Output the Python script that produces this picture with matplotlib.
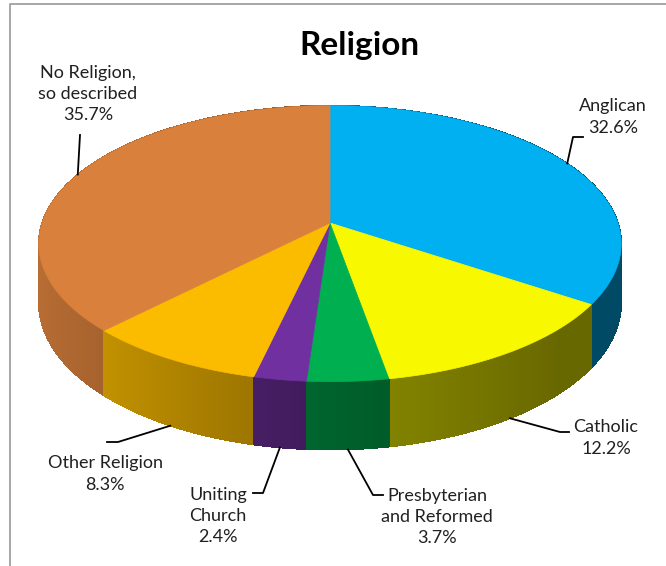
import matplotlib.pyplot as plt
import numpy as np
from matplotlib.patches import Polygon
from matplotlib.colors import to_rgb

plt.rcParams["font.family"] = ["Lato", "DejaVu Sans"]

# Religion shares (%), clockwise from 12 o'clock
categories = ["Anglican", "Catholic", "Presbyterian\nand Reformed",
              "Uniting\nChurch", "Other Religion", "No Religion,\nso described"]
shares = [32.6, 12.2, 3.7, 2.4, 8.3, 35.7]
colors = ["#00B0F0", "#F8F800", "#00AF50", "#7030A0", "#FBBC00", "#D8803C"]

# label centres and leader line bends, in pixels
label_pos = [(613, 117), (606, 438), (437, 517), (218, 516), (105, 474), (88, 94)]
leader_bend = [[(573, 137), (583, 137)],
               [(560, 432), (569, 432)],
               [(373, 495), (383, 495)],
               [(263, 493), (253, 493)],
               [(118, 442), (107, 442)],
               [(80, 135)]]

# perspective ellipse for the pie disc
CX, CY = 330, 223
RX, RY = 288, 135
K = 0.149
DEPTH = 58


def project(theta, drop=0.0):
    u, v = np.sin(theta), np.cos(theta)
    d = 1 + K * v
    return CX + RX * u / d, CY - RY * v / d + drop * DEPTH / d


def shade(color, u):
    # light comes from the left
    f = 0.56 - (0.3 if u < 0 else 0.2) * u
    f = np.clip(f, 0.42, 0.88)
    return tuple(c * f for c in to_rgb(color))


def wall(a, b, n):
    t = np.linspace(a, b, n)
    xs, ys = project(t)
    xb, yb = project(t[::-1], 1)
    return list(zip(xs, ys)) + list(zip(xb, yb))


fig = plt.figure(figsize=(6.66, 5.66), dpi=100)
ax = fig.add_axes([0, 0, 1, 1])
ax.set_xlim(0, 666)
ax.set_ylim(566, 0)
ax.axis("off")

total = sum(shares)
edges = 2 * np.pi * np.concatenate([[0], np.cumsum(shares)]) / total

# side walls: smooth antialiased outline layer, then fine gradient strips
outline = []
strips = []
for i, col in enumerate(colors):
    mid = 0.5 * (edges[i] + edges[i + 1])
    outline.append((np.cos(mid), edges[i], edges[i + 1], shade(col, np.sin(mid))))
    n = max(int(4 * np.degrees(edges[i + 1] - edges[i])), 2)
    t = np.linspace(edges[i], edges[i + 1], n + 1)
    for a, b in zip(t[:-1], t[1:]):
        m = 0.5 * (a + b)
        strips.append((np.cos(m), a, b, shade(col, np.sin(m))))

for _, a, b, fc in sorted(outline, key=lambda s: -s[0]):
    ax.add_patch(Polygon(wall(a, b, 100), closed=True, fc=fc, ec="none"))
for _, a, b, fc in sorted(strips, key=lambda s: -s[0]):
    ax.add_patch(Polygon(wall(a, b, 2), closed=True, fc=fc, ec=fc,
                         lw=0.3, antialiased=False))

# top faces
for i, col in enumerate(colors):
    t = np.linspace(edges[i], edges[i + 1], 200)
    xs, ys = project(t)
    pts = [(CX, CY)] + list(zip(xs, ys))
    ax.add_patch(Polygon(pts, closed=True, fc=col, ec=col, lw=0.5))

# labels and leader lines
for i, name in enumerate(categories):
    mid = 0.5 * (edges[i] + edges[i + 1])
    px, py = project(mid, 1 if np.cos(mid) < 0 else 0)
    pts = [(px, py)] + leader_bend[i]
    ax.plot([p[0] for p in pts], [p[1] for p in pts], color="black", lw=1.3)
    ax.text(label_pos[i][0], label_pos[i][1], f"{name}\n{shares[i]}%",
            ha="center", va="center", fontsize=13, linespacing=1.4,
            color="#202020")

ax.text(359, 46, "Religion", ha="center", va="center",
        fontsize=24, fontweight="bold", color="black")

# chart frame
ax.plot([10, 10, 666], [566, 4, 4], color="#A6A6A6", lw=1.4)

fig.savefig("out.png", dpi=100)
